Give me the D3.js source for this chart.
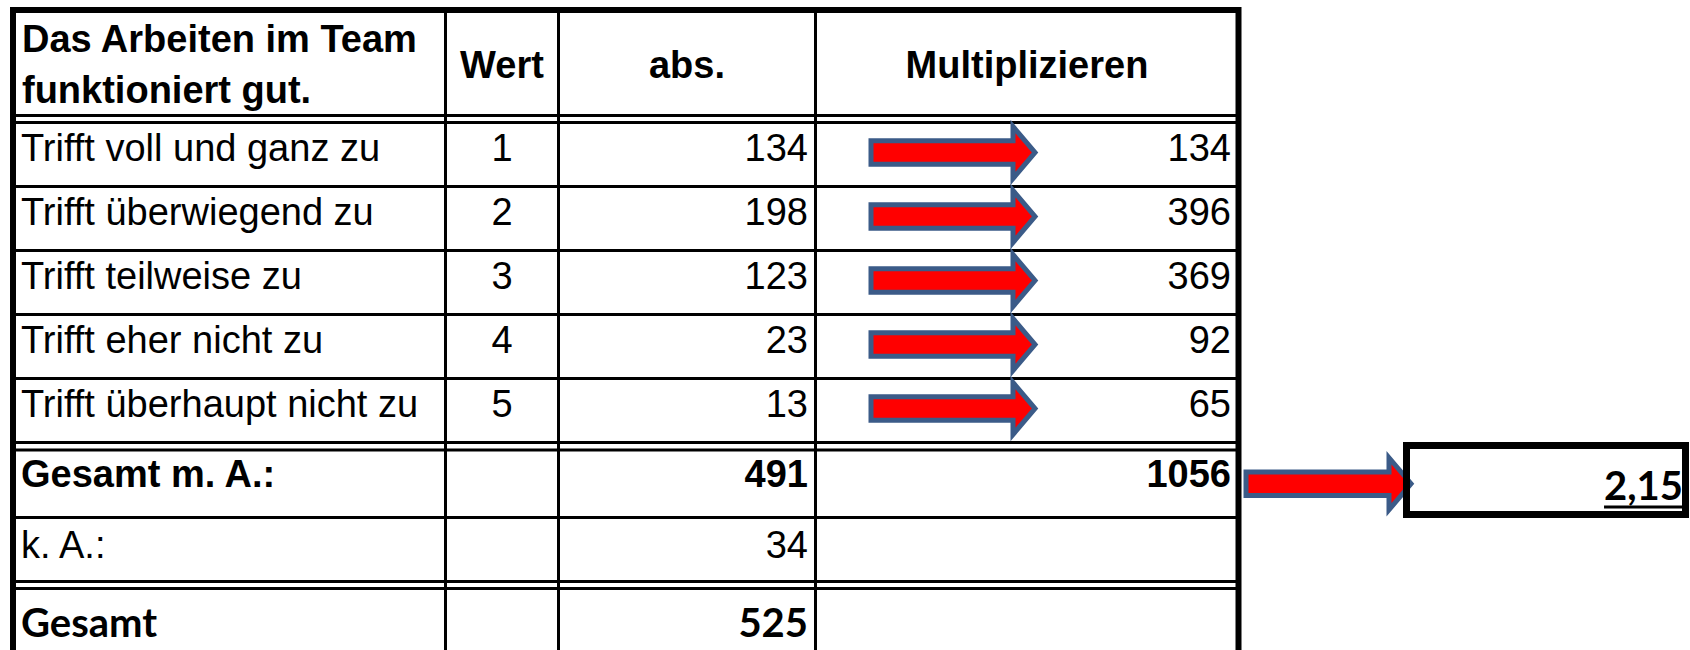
<!DOCTYPE html>
<meta charset="utf-8">
<style>
 body {
   margin: 0;
   background-color: #fff;
 }

 svg {
   font-family: "Liberation Sans", Arial, sans-serif;
   font-size: 38px;
 }

 text {
   fill: #000;
 }

 .bold {
   font-weight: bold;
 }

 .cal {
   font-family: Lato, sans-serif;
   font-weight: bold;
   font-size: 40px;
 }

 .grid line {
   stroke: #000;
   stroke-width: 3;
 }

 .frame {
   fill: none;
   stroke: #000;
   stroke-width: 6;
 }

 .arrow {
   fill: #ff0000;
   stroke: #3b5b88;
   stroke-width: 5;
 }
</style>

<svg width="1690" height="650"></svg>

<script src="https://cdn.jsdelivr.net/npm/d3@7"></script>
<script>

 // data
 var titleLines = ['Das Arbeiten im Team', 'funktioniert gut.']
 var headers = ['Wert', 'abs.', 'Multiplizieren']
 var categories = ['Trifft voll und ganz zu', 'Trifft überwiegend zu', 'Trifft teilweise zu',
                   'Trifft eher nicht zu', 'Trifft überhaupt nicht zu']
 var werte = [1, 2, 3, 4, 5]
 var absolut = [134, 198, 123, 23, 13]
 var produkte = [134, 396, 369, 92, 65]
 var sumLabels = ['Gesamt m. A.:', 'k. A.:', 'Gesamt']
 var sumAbs = [491, 34, 525]
 var sumProd = [1056, null, null]
 var mittelwert = '2,15'

 // layout
 var colEdges = [13, 445.5, 558.5, 815.5, 1238.5]
 var sumTop = [450, 517.5, 588.5]
 var sumBase = [487, 558, 637]

 var svg = d3.select('svg')

 var y = d3.scaleBand()
           .domain(categories)
           .range([122.5, 442.5])

 var grid = svg.append('g').attr('class', 'grid')

 // horizontal rules
 var hLines = [115.5, 122.5]
   .concat(categories.slice(1).map(d => y(d)))
   .concat([442.5, 450, 517.5, 581.5, 588.5])
 grid.selectAll('line.h')
     .data(hLines)
     .join('line')
     .attr('class', 'h')
     .attr('x1', colEdges[0])
     .attr('x2', colEdges[4])
     .attr('y1', d => d)
     .attr('y2', d => d)

 // vertical rules
 grid.selectAll('line.v')
     .data(colEdges.slice(1, 4))
     .join('line')
     .attr('class', 'v')
     .attr('x1', d => d)
     .attr('x2', d => d)
     .attr('y1', 10)
     .attr('y2', 660)

 svg.append('rect')
    .attr('class', 'frame')
    .attr('x', colEdges[0])
    .attr('y', 10)
    .attr('width', colEdges[4] - colEdges[0])
    .attr('height', 660)

 // header
 svg.selectAll('text.title')
    .data(titleLines)
    .join('text')
    .attr('class', 'title bold')
    .attr('x', 22)
    .attr('y', (d, i) => 52 + i * 51)
    .text(d => d)

 svg.selectAll('text.head')
    .data(headers)
    .join('text')
    .attr('class', 'head bold')
    .attr('text-anchor', 'middle')
    .attr('x', (d, i) => (colEdges[i + 1] + colEdges[i + 2]) / 2)
    .attr('y', 78)
    .text(d => d)

 // rows
 var rows = svg.selectAll('g.row')
               .data(categories)
               .join('g')
               .attr('class', 'row')
               .attr('transform', d => `translate(0,${y(d)})`)

 rows.append('text')
     .attr('x', 21)
     .attr('y', 38)
     .text(d => d)

 rows.append('text')
     .attr('text-anchor', 'middle')
     .attr('x', (colEdges[1] + colEdges[2]) / 2)
     .attr('y', 38)
     .text((d, i) => werte[i])

 rows.append('text')
     .attr('text-anchor', 'end')
     .attr('x', colEdges[3] - 7.5)
     .attr('y', 38)
     .text((d, i) => absolut[i])

 rows.append('text')
     .attr('text-anchor', 'end')
     .attr('x', colEdges[4] - 7.5)
     .attr('y', 38)
     .text((d, i) => produkte[i])

 function arrowPath(left, base, tip, cy) {
   var sh = 11.7, hh = 26
   return `M${left},${cy - sh} L${base},${cy - sh} L${base},${cy - hh} L${tip},${cy} ` +
          `L${base},${cy + hh} L${base},${cy + sh} L${left},${cy + sh} Z`
 }

 rows.append('path')
     .attr('class', 'arrow')
     .attr('d', arrowPath(871, 1013, 1035, y.bandwidth() / 2 - 2))

 // summary rows
 var sums = svg.selectAll('g.sum')
               .data(sumLabels)
               .join('g')
               .attr('class', 'sum')

 sums.append('text')
     .attr('class', (d, i) => i == 0 ? 'bold' : i == 2 ? 'cal' : null)
     .attr('x', 21)
     .attr('y', (d, i) => sumBase[i])
     .text(d => d)

 sums.append('text')
     .attr('class', (d, i) => i == 0 ? 'bold' : i == 2 ? 'cal' : null)
     .attr('text-anchor', 'end')
     .attr('x', colEdges[3] - 7.5)
     .attr('y', (d, i) => sumBase[i])
     .text((d, i) => sumAbs[i])

 sums.filter((d, i) => sumProd[i] != null)
     .append('text')
     .attr('class', 'bold')
     .attr('text-anchor', 'end')
     .attr('x', colEdges[4] - 7.5)
     .attr('y', (d, i) => sumBase[i])
     .text((d, i) => sumProd[i])

 // arrow to the mean
 svg.append('path')
    .attr('class', 'arrow')
    .attr('d', arrowPath(1246, 1389, 1411, (sumTop[0] + sumTop[1]) / 2))

 svg.append('rect')
    .attr('class', 'frame')
    .style('stroke-width', 7)
    .attr('x', 1406.5)
    .attr('y', 445.5)
    .attr('width', 279)
    .attr('height', 69)

 var mean = svg.append('text')
               .attr('class', 'cal')
               .attr('text-anchor', 'end')
               .attr('x', 1683)
               .attr('y', 500)
               .text(mittelwert)

 var bb = mean.node().getBBox()
 svg.append('rect')
    .attr('x', bb.x)
    .attr('y', 505.5)
    .attr('width', bb.width)
    .attr('height', 3)
    .attr('fill', '#000')

</script>
